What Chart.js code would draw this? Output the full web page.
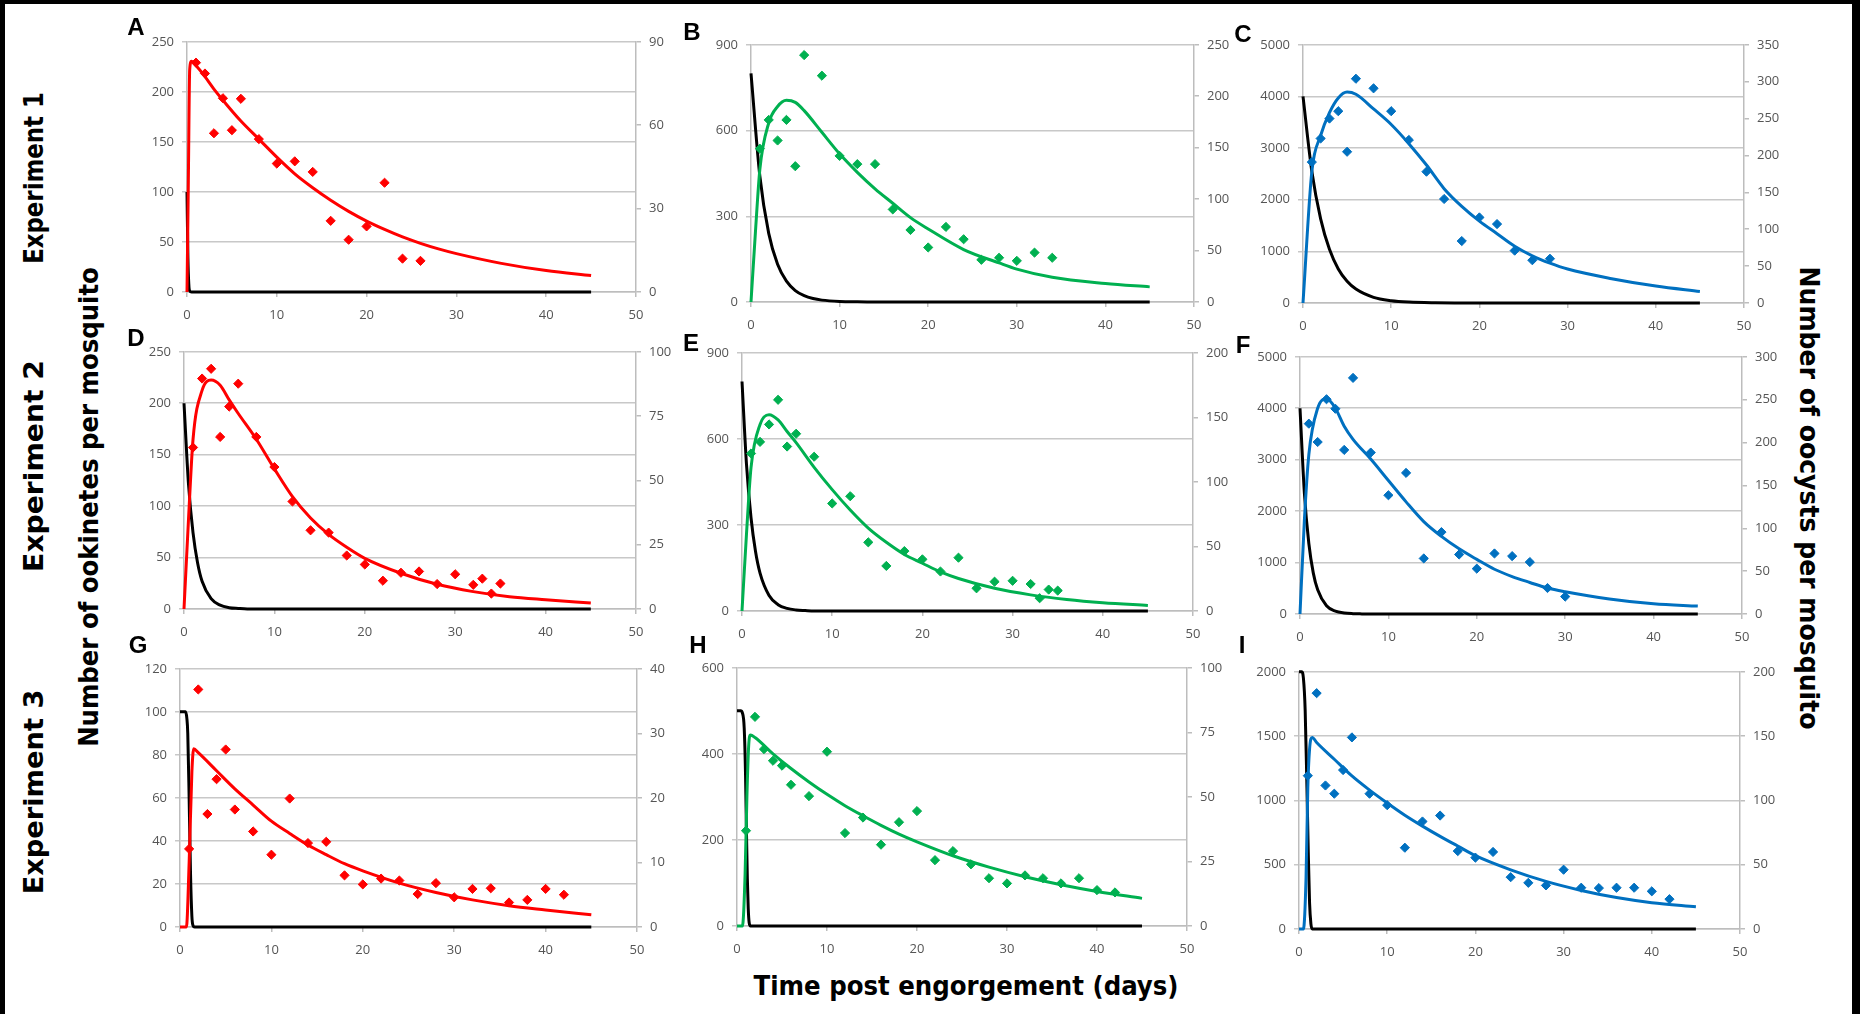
<!DOCTYPE html>
<html>
<head>
<meta charset="utf-8">
<script src="https://cdn.jsdelivr.net/npm/chart.js@4.4.1/dist/chart.umd.min.js"></script>
<style>
  html, body { margin: 0; padding: 0; background: #fff; }
  #fig { position: relative; width: 1860px; height: 1014px; overflow: hidden; background: #fff; }
  #fig canvas { position: absolute; }
  .big { position: absolute; white-space: nowrap; font-family: 'Liberation Sans Narrow', 'DejaVu Sans Condensed', 'Liberation Sans', sans-serif;
         font-weight: bold; color: #000; line-height: 1; }
  .letter { position: absolute; font-family: 'Liberation Sans', Arial, sans-serif; font-weight: bold; font-size: 24px; color: #000; line-height: 1;
            transform: translate(-50%, -50%); }
  .frame { position: absolute; background: #000; }
</style>
</head>
<body>
<div id="fig"></div>
<script>
// ---- Oocyst counts (diamonds) and fitted oocyst curves, right axis ----
// ---- Ookinete model curves (black), left axis ----

// Panel A (Experiment 1, red)
const aObsDay = [1, 2, 3, 4, 5, 6, 8, 10, 12, 14, 16, 18, 20, 22, 24, 26];
const aObs    = [82.5, 78.6, 57.1, 69.7, 58.2, 69.5, 55.0, 46.2, 47.0, 43.2, 25.6, 18.8, 23.6, 39.3, 12.0, 11.2];
const aFitDay = [0, 0.15, 0.3, 0.5, 1, 2, 3, 4, 6, 8, 10, 12, 14, 16, 18, 20, 22, 24, 26, 28, 30, 35, 40, 45];
const aFit    = [0, 40, 80, 83, 81.5, 77.5, 73, 69, 61.5, 55, 48.5, 42.5, 37.5, 33, 29, 25.5, 22.5, 19.8, 17.5, 15.5, 13.8, 10.3, 7.7, 5.9];
const aOokDay = [0, 0.1, 0.2, 0.3, 0.5, 45];
const aOok    = [100, 35, 8, 1, 0, 0];

// Panel B (Experiment 1, green)
const bObsDay = [1, 2, 3, 4, 5, 6, 8, 10, 12, 14, 16, 18, 20, 22, 24, 26, 28, 30, 32, 34];
const bObs    = [149, 177, 157, 177, 132, 240, 220, 142, 134, 134, 90, 70, 53, 73, 61, 41, 43, 40, 48, 43];
const bFitDay = [0, 0.5, 1, 2, 3, 4, 5, 6, 8, 10, 12, 14, 16, 18, 20, 24, 28, 30, 34, 40, 45];
const bFit    = [0, 68, 129, 174, 190, 196, 194, 186, 165, 144, 126, 110, 96, 82, 71, 51, 38, 32, 24, 18, 14.7];
const bOokDay = [0, 1, 2, 3, 4, 5, 6, 7, 8, 10, 12, 14, 45];
const bOok    = [800, 440, 240, 132, 73, 40, 22, 12, 6.6, 2, 0.6, 0, 0];

// Panel C (Experiment 1, blue)
const cObsDay = [1, 2, 3, 4, 5, 6, 8, 10, 12, 14, 16, 18, 20, 22, 24, 26, 28];
const cObs    = [191, 223, 250, 260, 205, 304, 291, 260, 221, 178, 141, 84, 116, 107, 71, 58, 60];
const cFitDay = [0, 1, 2, 3, 4, 5, 6, 8, 10, 12, 14, 16, 18, 20, 22, 24, 26, 28, 30, 35, 40, 45];
const cFit    = [0, 178, 227, 258, 278, 286, 283, 263, 242, 216, 187, 155, 131, 111, 94, 77, 64, 54, 46, 33, 23, 15.6];
const cOokDay = [0, 1, 2, 3, 4, 5, 6, 8, 10, 12, 15, 20, 45];
const cOok    = [4000, 2550, 1630, 1040, 660, 420, 270, 110, 45, 18, 5, 0, 0];

// Panel D (Experiment 2, red)
const dObsDay = [1, 2, 3, 4, 5, 6, 8, 10, 12, 14, 16, 18, 20, 22, 24, 26, 28, 30, 32, 33, 34, 35];
const dObs    = [62.8, 89.6, 93.4, 66.9, 78.7, 87.6, 66.9, 55.2, 41.8, 30.6, 29.7, 20.8, 17.3, 11, 14.1, 14.6, 9.7, 13.5, 9.4, 11.8, 6, 9.9];
const dFitDay = [0, 0.5, 1, 2, 3, 4, 5, 6, 8, 10, 12, 14, 16, 18, 20, 24, 28, 32, 36, 40, 45];
const dFit    = [0, 35, 66, 85, 89, 87, 81.3, 76, 66, 54.5, 43.7, 35.4, 29, 24, 19.7, 13.9, 9.6, 6.75, 4.8, 3.6, 2.3];
const dOokDay = [0, 0.5, 1, 1.5, 2, 3, 4, 5, 6, 7, 45];
const dOok    = [200, 121, 74, 45, 27, 10, 3.7, 1.3, 0.5, 0, 0];

// Panel E (Experiment 2, green)
const eObsDay = [1, 2, 3, 4, 5, 6, 8, 10, 12, 14, 16, 18, 20, 22, 24, 26, 28, 30, 32, 33, 34, 35];
const eObs    = [122, 131, 144.5, 163.6, 127.4, 137.3, 119.5, 83.3, 88.9, 53.2, 34.9, 46.4, 40, 30.6, 41.3, 17.6, 22.7, 23.4, 20.9, 9.9, 16.6, 15.8];
const eFitDay = [0, 0.5, 1, 2, 3, 4, 5, 6, 8, 10, 12, 14, 16, 18, 20, 22, 24, 28, 32, 36, 40, 45];
const eFit    = [0, 60, 111, 144.5, 152, 148, 139, 130.4, 111.3, 94, 78.2, 64.2, 53.2, 43.8, 37, 30.3, 25.2, 17.6, 12.5, 8.9, 6.4, 4.3];
const eOokDay = [0, 0.5, 1, 1.5, 2, 3, 4, 5, 6, 7, 8, 45];
const eOok    = [800, 510, 325, 207, 132, 54, 22, 9, 3.6, 1.5, 0, 0];

// Panel F (Experiment 2, blue)
const fObsDay = [1, 2, 3, 4, 5, 6, 8, 10, 12, 14, 16, 18, 20, 22, 24, 26, 28, 30];
const fObs    = [222, 200.6, 250.5, 239.4, 191.4, 275.4, 188.3, 138.5, 164.6, 64.8, 95.5, 69.4, 52.9, 70.6, 67.5, 60.6, 30.3, 20.3];
const fFitDay = [0, 0.5, 1, 2, 3, 4, 5, 6, 8, 10, 12, 14, 16, 18, 20, 22, 24, 26, 28, 30, 35, 40, 45];
const fFit    = [0, 110, 186, 240, 251, 240, 219, 203.7, 180.7, 155.7, 130.8, 107.8, 90.5, 76, 63.7, 52.2, 43.7, 36.8, 30.3, 26, 17.6, 11.9, 9.2];
const fOokDay = [0, 0.5, 1, 1.5, 2, 3, 4, 5, 6, 7, 8, 45];
const fOok    = [4000, 2340, 1370, 800, 470, 160, 55, 19, 6.5, 2.2, 0, 0];

// Panel G (Experiment 3, red)
const gObsDay = [1, 2, 3, 4, 5, 6, 8, 10, 12, 14, 16, 18, 20, 22, 24, 26, 28, 30, 32, 34, 36, 38, 40, 42];
const gObs    = [12.1, 36.8, 17.5, 22.9, 27.5, 18.2, 14.8, 11.2, 19.9, 13, 13.2, 8, 6.6, 7.5, 7.2, 5.1, 6.8, 4.6, 5.9, 6, 3.8, 4.2, 5.9, 5];
const gFitDay = [0, 0.7, 1, 1.3, 1.5, 2, 4, 6, 8, 10, 12, 14, 16, 18, 20, 24, 28, 32, 36, 40, 45];
const gFit    = [0, 0, 10, 24, 27.6, 27, 24.2, 21.4, 18.9, 16.4, 14.5, 12.7, 11.2, 9.8, 8.7, 6.8, 5.35, 4.2, 3.3, 2.65, 1.9];
const gOokDay = [0, 0.6, 0.75, 0.85, 1.0, 1.15, 1.3, 1.4, 1.6, 45];
const gOok    = [100, 100, 97, 90, 60, 25, 5, 1, 0, 0];

// Panel H (Experiment 3, green)
const hObsDay = [1, 2, 3, 4, 5, 6, 8, 10, 12, 14, 16, 18, 20, 22, 24, 26, 28, 30, 32, 34, 36, 38, 40, 42];
const hObs    = [36.9, 81, 68.5, 64, 62.1, 54.7, 50.3, 67.5, 36, 42, 31.5, 40.2, 44.5, 25.5, 29, 23.9, 18.5, 16.5, 19.6, 18.5, 16.5, 18.5, 13.9, 13];
const hFitDay = [0, 0.6, 0.9, 1.1, 1.3, 1.5, 2, 4, 6, 8, 10, 12, 14, 16, 18, 20, 24, 28, 32, 36, 40, 45];
const hFit    = [0, 0, 20, 50, 70, 74, 73, 66.7, 61, 55.8, 51, 46.6, 42.7, 39, 35.6, 32.6, 27.2, 22.8, 19.1, 16, 13.4, 10.7];
const hOokDay = [0, 0.4, 0.6, 0.8, 0.95, 1.05, 1.15, 1.25, 1.35, 1.5, 45];
const hOok    = [500, 500, 495, 460, 350, 220, 110, 40, 8, 0, 0];

// Panel I (Experiment 3, blue)
const iObsDay = [1, 2, 3, 4, 5, 6, 8, 10, 12, 14, 16, 18, 20, 22, 24, 26, 28, 30, 32, 34, 36, 38, 40, 42];
const iObs    = [119.2, 183.4, 111.6, 105.2, 123.6, 149, 105.2, 96.3, 63.2, 83.6, 88.2, 60.6, 55.5, 59.9, 40.3, 35.9, 33.9, 46.1, 32.1, 31.8, 32.1, 32.1, 29.3, 23.2];
const iFitDay = [0, 0.5, 0.8, 1.0, 1.2, 1.5, 2, 4, 6, 8, 10, 12, 14, 16, 18, 20, 24, 28, 32, 36, 40, 45];
const iFit    = [0, 0, 40, 110, 140, 149, 145, 132, 119, 108, 98, 88.5, 80, 72, 64.5, 57, 46, 37, 30, 24.5, 20.5, 17.3];
const iOokDay = [0, 0.3, 0.5, 0.7, 0.9, 1.05, 1.2, 1.35, 1.5, 45];
const iOok    = [2000, 2000, 1950, 1700, 1100, 600, 200, 40, 0, 0];

// Axis ranges, panels A..I
const panelLetters = ['A', 'B', 'C', 'D', 'E', 'F', 'G', 'H', 'I'];
const leftMax   = [250, 900, 5000, 250, 900, 5000, 120, 600, 2000];
const leftStep  = [50, 300, 1000, 50, 300, 1000, 20, 200, 500];
const rightMax  = [90, 250, 350, 100, 200, 300, 40, 100, 200];
const rightStep = [30, 50, 50, 25, 50, 50, 10, 25, 50];
const dayTicks  = [0, 10, 20, 30, 40, 50];

// Text
const rowTitles   = ['Experiment 1', 'Experiment 2', 'Experiment 3'];
const leftTitle   = 'Number of ookinetes per mosquito';
const rightTitle  = 'Number of oocysts per mosquito';
const bottomTitle = 'Time post engorgement (days)';

// ---------------- drawing ----------------
const RED = '#ff0000', GREEN = '#00b050', BLUE = '#0070c0';
const seriesColor = [RED, GREEN, BLUE, RED, GREEN, BLUE, RED, GREEN, BLUE];
const obsDays = [aObsDay, bObsDay, cObsDay, dObsDay, eObsDay, fObsDay, gObsDay, hObsDay, iObsDay];
const obsVals = [aObs, bObs, cObs, dObs, eObs, fObs, gObs, hObs, iObs];
const fitDays = [aFitDay, bFitDay, cFitDay, dFitDay, eFitDay, fFitDay, gFitDay, hFitDay, iFitDay];
const fitVals = [aFit, bFit, cFit, dFit, eFit, fFit, gFit, hFit, iFit];
const ookDays = [aOokDay, bOokDay, cOokDay, dOokDay, eOokDay, fOokDay, gOokDay, hOokDay, iOokDay];
const ookVals = [aOok, bOok, cOok, dOok, eOok, fOok, gOok, hOok, iOok];

// plot-area rectangles [left, top, right, bottom] in page pixels
const plotRects = [
  [187, 38, 636, 292], [751, 41, 1194, 302], [1303, 41, 1744, 303],
  [184, 348, 636, 609], [742, 349, 1193, 611], [1300, 353, 1742, 614],
  [180, 665, 637, 927], [737, 664, 1187, 926], [1299, 668, 1740, 929]
];
const letterPos = [
  [136, 27], [692, 32], [1243, 34],
  [136, 338], [691, 343], [1243, 345],
  [138, 645], [698, 645], [1242, 645]
];

const fig = document.getElementById('fig');
const PAD_L = 60, PAD_R = 50, PAD_T = 12, PAD_B = 40;
const GRID = '#c8c8c8', AXIS = '#bdbdbd', TICK_TXT = '#555';
const tickFont = { family: "'Open Sans', 'Noto Sans', sans-serif", size: 13 };

function pts(xs, ys) { return xs.map((x, i) => ({ x: x, y: ys[i] })); }

plotRects.forEach((r, k) => {
  const cv = document.createElement('canvas');
  const w = (r[2] - r[0]) + PAD_L + PAD_R;
  const h = (r[3] - r[1]) + PAD_T + PAD_B;
  cv.width = w; cv.height = h;
  cv.style.left = (r[0] - PAD_L) + 'px';
  cv.style.top = (r[1] - PAD_T) + 'px';
  cv.style.width = w + 'px'; cv.style.height = h + 'px';
  fig.appendChild(cv);
  const col = seriesColor[k];

  new Chart(cv, {
    type: 'scatter',
    data: {
      datasets: [
        { data: pts(obsDays[k], obsVals[k]), yAxisID: 'y2', showLine: false,
          pointStyle: 'rectRot', pointRadius: 4.6, pointBorderWidth: 1,
          backgroundColor: col, borderColor: col, clip: 6 },
        { data: pts(fitDays[k], fitVals[k]), yAxisID: 'y2', showLine: true,
          borderColor: col, borderWidth: 3, pointRadius: 0, fill: false,
          cubicInterpolationMode: 'monotone', clip: 3 },
        { data: pts(ookDays[k], ookVals[k]), yAxisID: 'y', showLine: true,
          borderColor: '#000', borderWidth: 3, pointRadius: 0, fill: false,
          cubicInterpolationMode: 'monotone', clip: 3 }
      ]
    },
    options: {
      responsive: false, animation: false, devicePixelRatio: 1,
      layout: { padding: { top: PAD_T, left: 0, right: 0, bottom: 0 } },
      plugins: { legend: { display: false }, tooltip: { enabled: false } },
      scales: {
        x: {
          type: 'linear', min: 0, max: 50,
          afterBuildTicks: s => { s.ticks = dayTicks.map(v => ({ value: v })); },
          ticks: { color: TICK_TXT, font: tickFont, padding: 10, maxRotation: 0, callback: v => String(v) },
          grid: { drawOnChartArea: false, drawTicks: true, tickLength: 5, color: AXIS, lineWidth: 1.5 },
          border: { color: AXIS, width: 1.5 },
          afterFit: s => { s.height = PAD_B; }
        },
        y: {
          position: 'left', min: 0, max: leftMax[k],
          ticks: { stepSize: leftStep[k], color: TICK_TXT, font: tickFont, padding: 8, callback: v => String(v) },
          grid: { color: GRID, lineWidth: 1.5, drawTicks: true, tickLength: 5 },
          border: { color: AXIS, width: 1.5 },
          afterFit: s => { s.width = PAD_L; }
        },
        y2: {
          position: 'right', min: 0, max: rightMax[k],
          ticks: { stepSize: rightStep[k], color: TICK_TXT, font: tickFont, padding: 8, callback: v => String(v) },
          grid: { drawOnChartArea: false, drawTicks: true, tickLength: 5, color: AXIS, lineWidth: 1.5 },
          border: { color: AXIS, width: 1.5 },
          afterFit: s => { s.width = PAD_R; }
        }
      }
    }
  });

  const L = document.createElement('div');
  L.className = 'letter';
  L.textContent = panelLetters[k];
  L.style.left = letterPos[k][0] + 'px';
  L.style.top = letterPos[k][1] + 'px';
  fig.appendChild(L);
});

// large titles, stretched to their lengths along the text direction
function bigText(txt, cx, cy, size, len, angle) {
  const d = document.createElement('div');
  d.className = 'big';
  d.style.fontSize = size + 'px';
  d.textContent = txt;
  d.style.left = cx + 'px';
  d.style.top = cy + 'px';
  fig.appendChild(d);
  const s = len / d.offsetWidth;
  d.style.transform = 'translate(-50%, -50%) rotate(' + angle + 'deg) scaleX(' + s.toFixed(3) + ')';
}
bigText(rowTitles[0], 34, 178, 26, 172, -90);
bigText(rowTitles[1], 34, 466, 26, 212, -90);
bigText(rowTitles[2], 34, 792, 26, 205, -90);
bigText(leftTitle, 89, 507, 26, 480, -90);
bigText(rightTitle, 1809, 498, 26, 463, 90);
bigText(bottomTitle, 966, 985, 27, 425, 0);

// outer frame
[[0, 0, 1860, 4], [0, 0, 5, 1014], [1852, 0, 8, 1014]].forEach(b => {
  const f = document.createElement('div');
  f.className = 'frame';
  f.style.left = b[0] + 'px'; f.style.top = b[1] + 'px';
  f.style.width = b[2] + 'px'; f.style.height = b[3] + 'px';
  fig.appendChild(f);
});
</script>
</body>
</html>
